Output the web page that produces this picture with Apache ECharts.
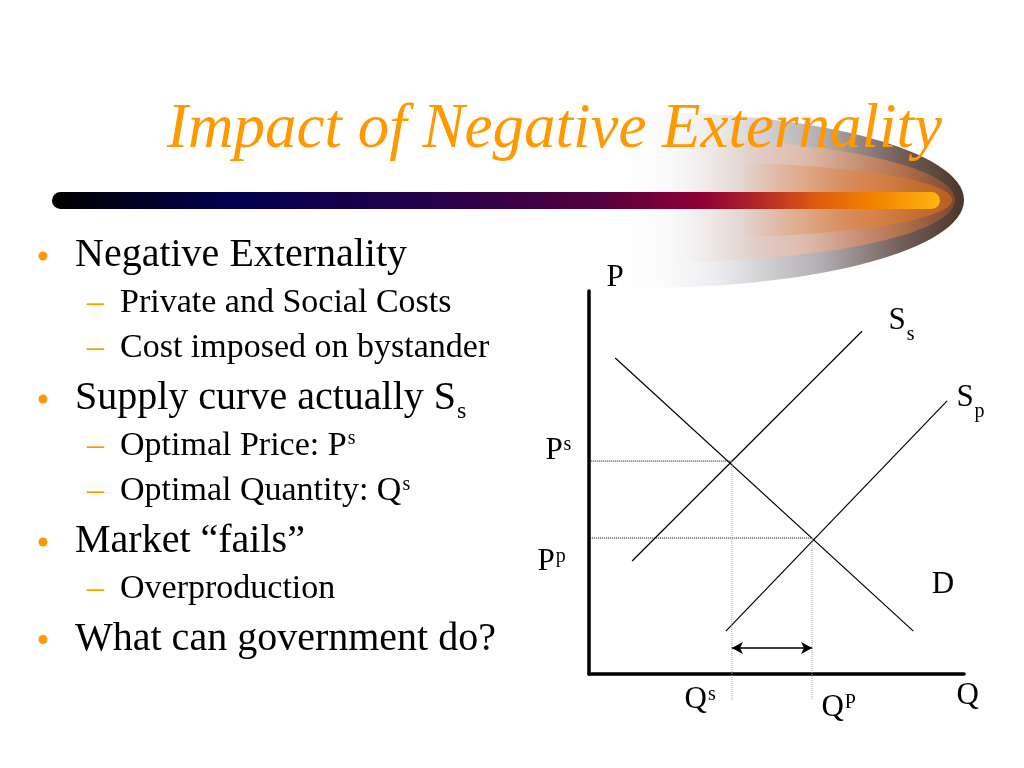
<!DOCTYPE html>
<html lang="en">
<head>
<meta charset="UTF-8">
<title>Impact of Negative Externality</title>
<script src="https://cdn.jsdelivr.net/npm/echarts@6.0.0/dist/echarts.min.js"></script>
<style>
    html, body { margin: 0; padding: 0; background: #fff; }
    #main { width: 1024px; height: 768px; }
</style>
</head>
<body>
<div id="main"></div>
<script>
    // curve end points, axis units (0..100 on both axes)
    var demand = [[7, 82.5], [86.5, 11.2]];
    var supplySocial = [[11.5, 29.5], [72.8, 89.5]];
    var supplyPrivate = [[36.5, 11.2], [95.5, 71.3]];

    // equilibrium values
    var priceSocial = 55.6, qtySocial = 38.1;
    var pricePrivate = 35.5, qtyPrivate = 59.5;
    var arrowLevel = 6.8;
    var guideFromSocial = -2.2, guideFromPrivate = -4.5, guideBottom = -6.8;

    // axis / curve labels
    var labelNames = ['{m|P}', '{m|S}{sub|s}', '{m|S}{sub|p}', '{m|P}{sup|s}', '{m|P}{sup|p}',
        '{m|D}', '{m|Q}{sup|s}', '{m|Q}{sup|P}', '{m|Q}'];
    var labelAt = [[4.8, 107.3], [80, 96], [98.1, 75.9], [-11.5, 62.3], [-13.6, 33.1],
        [91.5, 27.1], [25.6, -2.9], [62.1, -5], [98.1, -1.9]];

    var bullets = [
        [0, '{a|Negative Externality}'],
        [1, '{b|Private and Social Costs}'],
        [1, '{b|Cost imposed on bystander}'],
        [0, '{a|Supply curve actually S}{asub|s}'],
        [1, '{b|Optimal Price: P}{bsup|s}'],
        [1, '{b|Optimal Quantity: Q}{bsup|s}'],
        [0, '{a|Market \u201cfails\u201d}'],
        [1, '{b|Overproduction}'],
        [0, '{a|What can government do?}']
    ];

    var SERIF = '"Liberation Serif", "Times New Roman", serif';
    var ORANGE = '#FF9900';

    function lin(stops) {
        return { type: 'linear', x: 0, y: 0, x2: 1, y2: 0, colorStops: stops };
    }

    var graphics = [
        // swoosh behind the bar
        { type: 'ellipse', z: 0, silent: true, shape: { cx: 640, cy: 200, rx: 324, ry: 88 },
          style: { fill: lin([
              { offset: 0, color: 'rgba(255,255,255,0)' },
              { offset: 0.45, color: 'rgba(255,255,255,0)' },
              { offset: 0.62, color: '#ececef' },
              { offset: 0.78, color: '#b2aeb2' },
              { offset: 0.9, color: '#74605a' },
              { offset: 1, color: '#4a3528' }]) } },
        { type: 'ellipse', z: 1, silent: true, shape: { cx: 660, cy: 200, rx: 295, ry: 62 },
          style: { fill: lin([
              { offset: 0, color: 'rgba(255,255,255,0)' },
              { offset: 0.52, color: 'rgba(240,220,210,0)' },
              { offset: 0.74, color: 'rgba(232,190,170,0.8)' },
              { offset: 0.9, color: '#b87450' },
              { offset: 1, color: '#7a4a30' }]) } },
        { type: 'ellipse', z: 2, silent: true, shape: { cx: 690, cy: 200, rx: 262, ry: 38 },
          style: { fill: lin([
              { offset: 0, color: 'rgba(255,255,255,0)' },
              { offset: 0.6, color: 'rgba(230,150,100,0)' },
              { offset: 0.85, color: 'rgba(220,130,70,0.85)' },
              { offset: 1, color: '#b8601f' }]) } },
        // bar
        { type: 'rect', z: 3, silent: true, shape: { x: 52, y: 192, width: 888, height: 17, r: 8.5 },
          style: { fill: lin([
              { offset: 0, color: '#000000' },
              { offset: 0.2, color: '#00004e' },
              { offset: 0.45, color: '#2a0048' },
              { offset: 0.6, color: '#4e0040' },
              { offset: 0.73, color: '#8c0036' },
              { offset: 0.8, color: '#b52a26' },
              { offset: 0.86, color: '#dd5a10' },
              { offset: 0.92, color: '#f08000' },
              { offset: 1, color: '#ffb410' }]) } },
        // title
        { type: 'text', z: 4, silent: true,
          style: { x: 167, y: 152 - 0.3375 * 63, text: 'Impact of Negative Externality',
                   font: 'italic 63px ' + SERIF, fill: ORANGE, verticalAlign: 'middle' } }
    ];

    var richBullets = {
        a: { fontSize: 40, fontFamily: SERIF, fill: '#000', lineHeight: 40, verticalAlign: 'top' },
        asub: { fontSize: 24, fontFamily: SERIF, fill: '#000', lineHeight: 24, verticalAlign: 'top', padding: [21, 0, 0, 1] },
        b: { fontSize: 34, fontFamily: SERIF, fill: '#000', lineHeight: 34, verticalAlign: 'top' },
        bsup: { fontSize: 20, fontFamily: SERIF, fill: '#000', lineHeight: 20, verticalAlign: 'top', padding: [0, 0, 0, 1] }
    };

    var baseline = 269;
    bullets.forEach(function (item, i) {
        var level = item[0];
        if (i > 0) baseline += level === 0 ? 52 : 45.5;
        var size = level === 0 ? 40 : 34;
        if (level === 0) {
            graphics.push({ type: 'circle', z: 4, silent: true,
                shape: { cx: 43, cy: baseline - 13, r: 4.5 }, style: { fill: ORANGE } });
        } else {
            graphics.push({ type: 'text', z: 4, silent: true,
                style: { x: 87, y: baseline - 0.3375 * size, text: '\u2013', font: size + 'px ' + SERIF,
                         fill: ORANGE, verticalAlign: 'middle' } });
        }
        graphics.push({ type: 'text', z: 4, silent: true,
            style: { x: level === 0 ? 75 : 120, y: baseline - 0.8375 * size, text: item[1],
                     font: size + 'px ' + SERIF, fill: '#000', verticalAlign: 'top', rich: richBullets } });
    });

    function plain(data, color, type, width) {
        return { type: 'line', data: data, symbol: 'none', clip: false, silent: true, z: 3,
                 lineStyle: { color: color, type: type, width: width } };
    }

    var arrowSeries = plain([[qtySocial, priceSocial], [qtySocial, guideBottom]], '#aaa', 'dotted', 1);
    arrowSeries.markLine = {
        silent: true, symbol: ['arrow', 'arrow'], symbolSize: [9, 11],
        label: { show: false }, lineStyle: { color: '#000', type: 'solid', width: 1.5 },
        data: [[{ coord: [qtySocial, arrowLevel] }, { coord: [qtyPrivate, arrowLevel] }]]
    };

    var chart = echarts.init(document.getElementById('main'));
    chart.setOption({
        animation: false,
        backgroundColor: '#fff',
        grid: { left: 589, top: 291, right: 60, bottom: 94 },
        xAxis: { type: 'value', min: 0, max: 100,
                 axisLine: { show: true, lineStyle: { color: '#000', width: 3.5 } },
                 axisTick: { show: false }, axisLabel: { show: false }, splitLine: { show: false } },
        yAxis: { type: 'value', min: 0, max: 100,
                 axisLine: { show: true, lineStyle: { color: '#000', width: 3.5 } },
                 axisTick: { show: false }, axisLabel: { show: false }, splitLine: { show: false } },
        graphic: graphics,
        series: [
            plain(demand, '#000', 'solid', 1.2),
            plain(supplySocial, '#000', 'solid', 1.2),
            plain(supplyPrivate, '#000', 'solid', 1.2),
            plain([[guideFromSocial, priceSocial], [qtySocial, priceSocial]], '#000', 'dotted', 1),
            plain([[guideFromPrivate, pricePrivate], [qtyPrivate, pricePrivate]], '#000', 'dotted', 1),
            arrowSeries,
            plain([[qtyPrivate, pricePrivate], [qtyPrivate, guideBottom]], '#aaa', 'dotted', 1),
            {
                type: 'scatter', clip: false, silent: true, symbolSize: 1, z: 4,
                itemStyle: { color: 'rgba(0,0,0,0)' },
                data: labelNames.map(function (n, i) { return { name: n, value: labelAt[i] }; }),
                label: {
                    show: true, position: [0, 0], align: 'left', verticalAlign: 'top',
                    color: '#000', opacity: 1, textBorderWidth: 0,
                    formatter: function (p) { return p.name; },
                    rich: {
                        m: { fontSize: 31, fontFamily: SERIF, color: '#000', lineHeight: 31, verticalAlign: 'top', textBorderWidth: 0 },
                        sub: { fontSize: 20, fontFamily: SERIF, color: '#000', lineHeight: 20, verticalAlign: 'top', padding: [19, 0, 0, 1], textBorderWidth: 0 },
                        sup: { fontSize: 20, fontFamily: SERIF, color: '#000', lineHeight: 20, verticalAlign: 'top', padding: [0, 0, 0, 1], textBorderWidth: 0 }
                    }
                }
            }
        ]
    });
</script>
</body>
</html>
